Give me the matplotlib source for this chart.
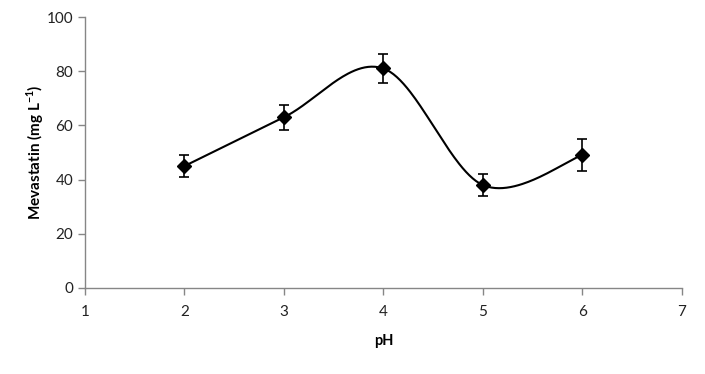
import numpy as np
from matplotlib import pyplot as plt

# pH values and measured mevastatin
ph = [2, 3, 4, 5, 6]
mevastatin = [45, 63, 81, 38, 49]
err = [4, 4.6, 5.2, 4, 6]


# Excel style smoothed line (bezier through the points)
def smooth_line(xs, ys, n=60):
    pts = np.column_stack([xs, ys]).astype(float)
    out = []
    for i in range(len(pts) - 1):
        p0 = pts[i - 1] if i > 0 else pts[i]
        p1 = pts[i]
        p2 = pts[i + 1]
        p3 = pts[i + 2] if i + 2 < len(pts) else pts[i + 1]
        c1 = p1 + (p2 - p0) / 6
        c2 = p2 - (p3 - p1) / 6
        t = np.linspace(0, 1, n)[:, None]
        seg = ((1 - t) ** 3) * p1 + 3 * ((1 - t) ** 2) * t * c1 + 3 * (1 - t) * t ** 2 * c2 + t ** 3 * p2
        out.append(seg)
    out = np.vstack(out)
    return out[:, 0], out[:, 1]


plt.rcParams['font.family'] = ['Lato', 'DejaVu Sans']
plt.rcParams['mathtext.fontset'] = 'custom'
plt.rcParams['mathtext.rm'] = 'Lato'
plt.rcParams['mathtext.bf'] = 'Lato:bold'

fig = plt.figure(figsize=(7.05, 3.74), dpi=100)
ax = fig.add_axes([0.1206, 0.23, 0.8464, 0.7245])

sx, sy = smooth_line(ph, mevastatin)
ax.plot(sx, sy, color='black', lw=1.5, zorder=2)
ax.errorbar(ph, mevastatin, yerr=err, fmt='D', color='black', ms=7,
            ecolor='black', elinewidth=1.2, capsize=3.5, capthick=1.2, zorder=3)

ax.set_xlim(1, 7)
ax.set_ylim(0, 100)
ax.set_xticks(range(1, 8))
ax.set_yticks(range(0, 101, 20))

for side in ['top', 'right']:
    ax.spines[side].set_visible(False)
for side in ['left', 'bottom']:
    ax.spines[side].set_color('#868686')
    ax.spines[side].set_linewidth(1)
ax.tick_params(colors='#868686', labelcolor='#222222', labelsize=11, length=5, width=1)
ax.tick_params(axis='x', pad=7)

ax.set_xlabel('pH', fontsize=10.5, fontweight='bold', labelpad=11)
ax.set_ylabel('Mevastatin (mg L$^{\\mathbf{-1}}$)', fontsize=11, fontweight='bold', labelpad=0.5)

plt.savefig('out.png', dpi=100)
